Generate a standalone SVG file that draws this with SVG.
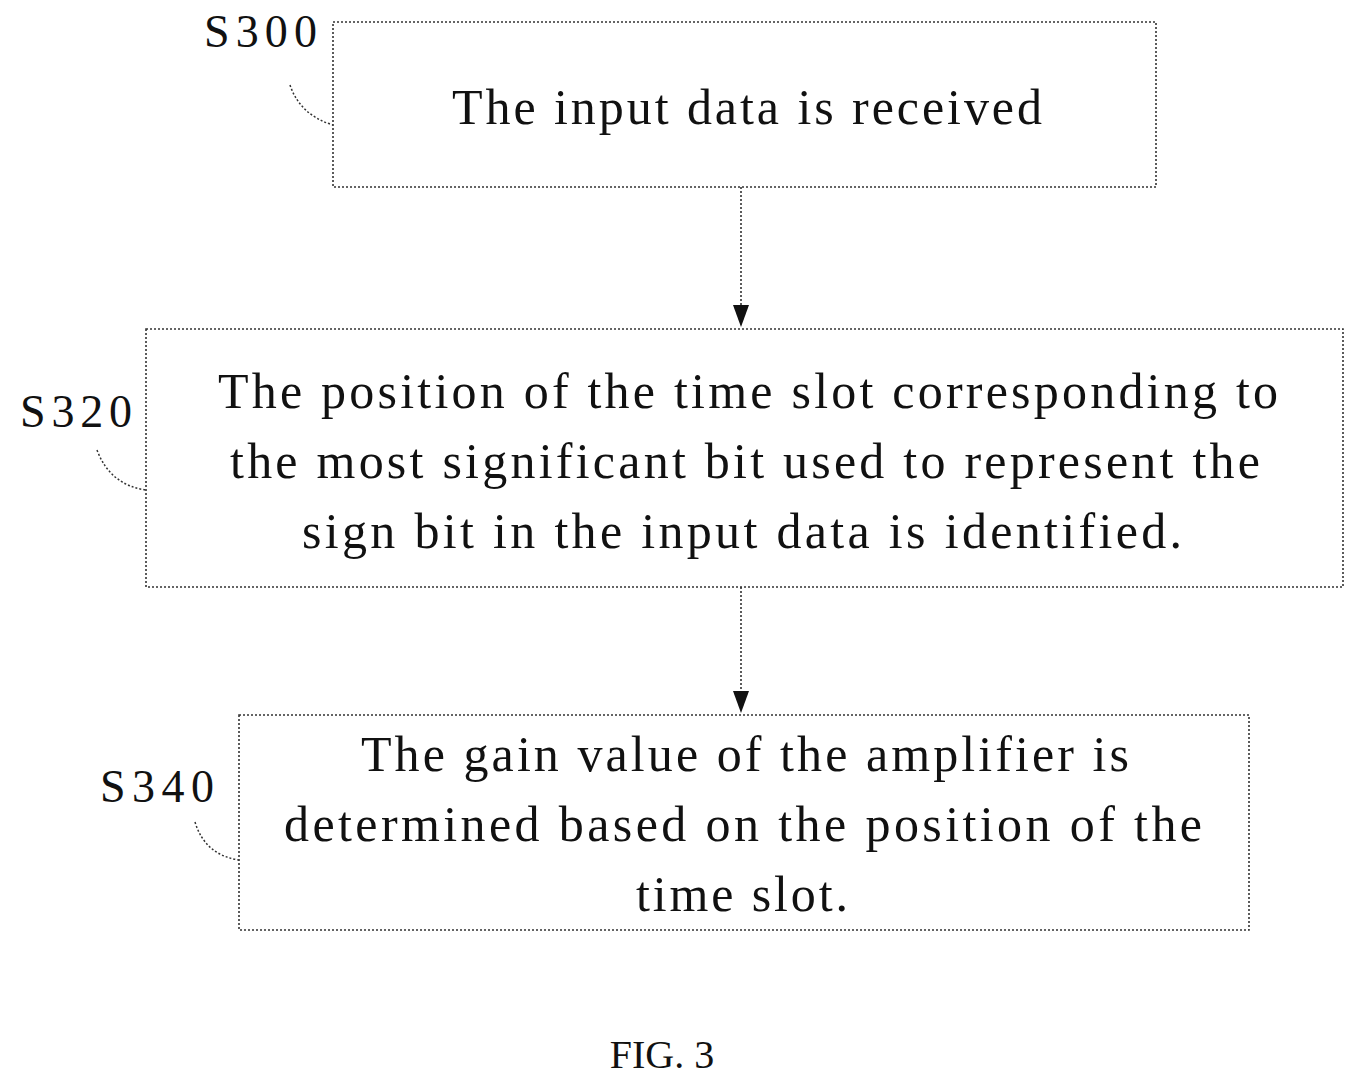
<svg xmlns="http://www.w3.org/2000/svg" width="1365" height="1088" viewBox="0 0 1365 1088">
<style>
.b{fill:none;stroke:#333;stroke-width:1.6;stroke-dasharray:2,2}
.t{font-family:"Liberation Serif",serif;font-size:50px;fill:#111;text-anchor:middle}
.l{font-family:"Liberation Serif",serif;font-size:46px;fill:#111}
.c{fill:none;stroke:#333;stroke-width:1.5;stroke-dasharray:2,2}
</style>
<rect width="1365" height="1088" fill="#fff"/>
<g id="n1"><rect class="b" x="333" y="22" width="823" height="165"/><text class="t" x="747" y="124" textLength="590" lengthAdjust="spacing">The input data is received</text>
<text class="l" x="204" y="47" textLength="113">S300</text><path class="c" d="M290,85 Q300,115 333,125"/></g>
<g id="n2"><rect class="b" x="146" y="329" width="1197" height="258"/>
<text class="t" x="748" y="408" textLength="1060" lengthAdjust="spacing">The position of the time slot corresponding  to</text>
<text class="t" x="745" y="478" textLength="1030" lengthAdjust="spacing">the most significant  bit used to represent  the</text>
<text class="t" x="742" y="548" textLength="880" lengthAdjust="spacing">sign bit in the input data  is identified.</text>
<text class="l" x="20" y="427" textLength="112">S320</text><path class="c" d="M97,450 Q110,485 146,490"/></g>
<g id="n3"><rect class="b" x="239" y="715" width="1010" height="215"/>
<text class="t" x="745" y="771" textLength="768" lengthAdjust="spacing">The gain value of the amplifier  is</text>
<text class="t" x="743" y="841" textLength="918" lengthAdjust="spacing">determined  based on the position of the</text>
<text class="t" x="742" y="911" textLength="212" lengthAdjust="spacing">time slot.</text>
<text class="l" x="100" y="802" textLength="114">S340</text><path class="c" d="M195,822 Q205,855 239,860"/></g>
<g id="edges"><line class="b" x1="741" y1="187" x2="741" y2="310"/><polygon points="733,305 749,305 741,327" fill="#111"/>
<line class="b" x1="741" y1="587" x2="741" y2="695"/><polygon points="733,691 749,691 741,713" fill="#111"/></g>
<text x="662" y="1068" style="font-family:'Liberation Serif',serif;font-size:40px;text-anchor:middle;fill:#111">FIG. 3</text>
</svg>
